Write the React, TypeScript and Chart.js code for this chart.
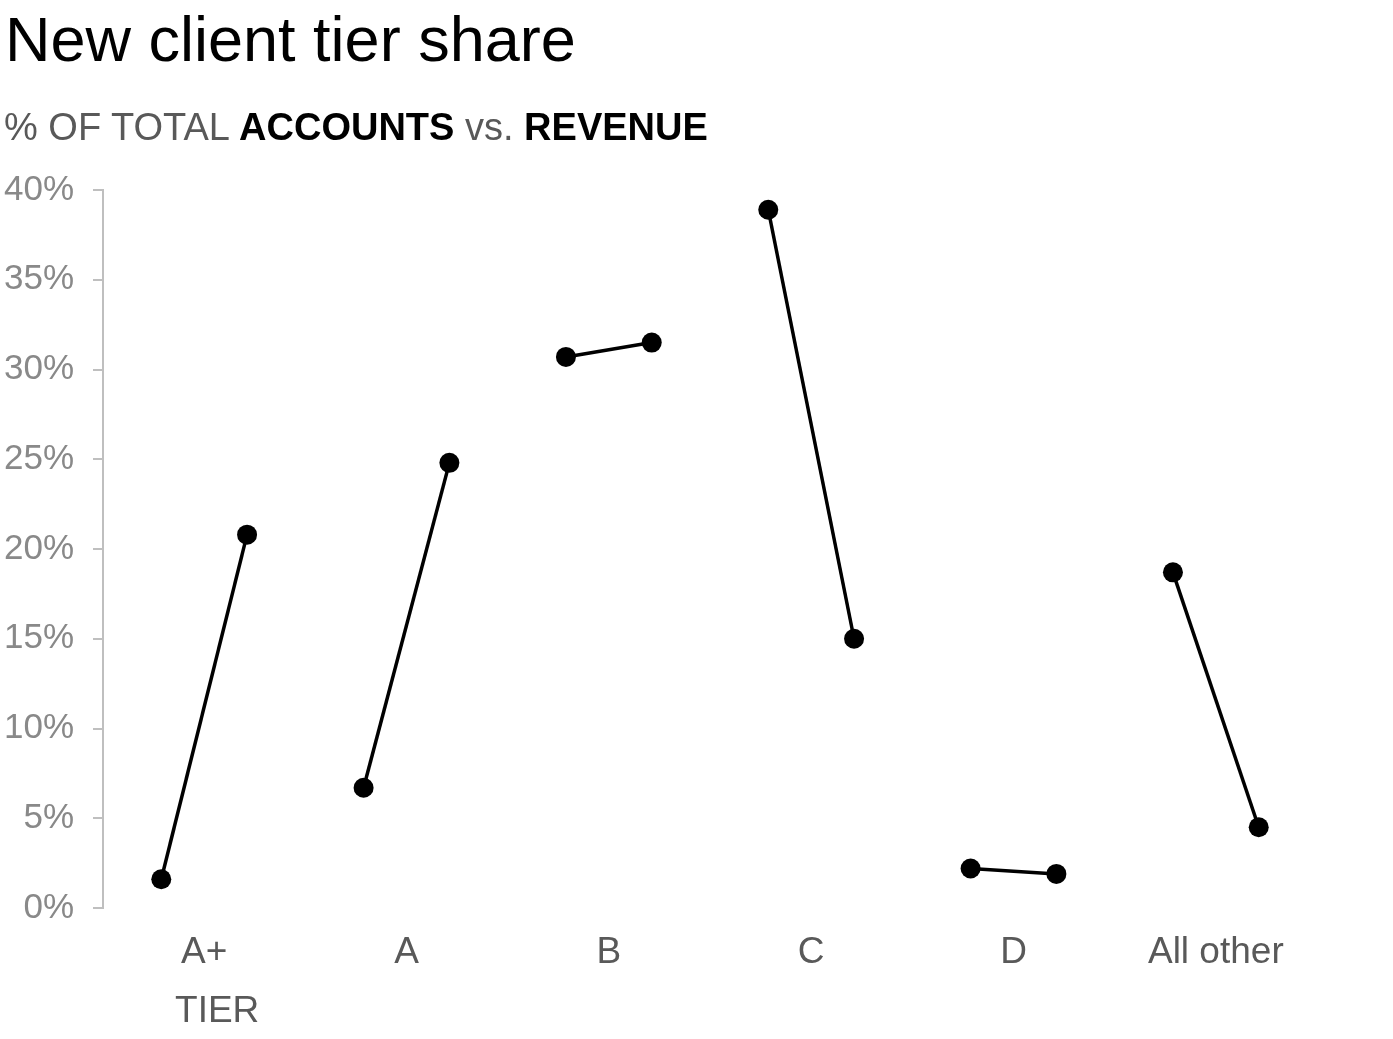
import React, { useEffect, useRef } from 'react';
import Chart from 'chart.js/auto';

const FONT = '"Liberation Sans", Arial, Helvetica, sans-serif';

// share of total, in percent
const categories = ['A+', 'A', 'B', 'C', 'D', 'All other'];
const accountsShare = [1.6, 6.7, 30.7, 38.9, 2.2, 18.7];
const revenueShare = [20.8, 24.8, 31.5, 15.0, 1.9, 4.5];
const axisTitle = 'TIER';

const SPREAD = 0.212; // half gap between the two points of a tier

const tierLabelPlugin = {
    id: 'tierLabel',
    afterDraw(chart: any) {
        const { ctx, chartArea } = chart;
        const x = chart.scales.x;
        ctx.save();
        ctx.font = `37px ${FONT}`;
        ctx.fillStyle = '#595959';
        ctx.textAlign = 'center';
        ctx.textBaseline = 'middle';
        ctx.fillText(axisTitle, x.getPixelForValue(0) + 13, chartArea.bottom + 104);
        ctx.restore();
    }
};

const App: React.FC = () => {
    const chartRef = useRef<HTMLCanvasElement>(null);
    const chartInstanceRef = useRef<Chart | null>(null);

    useEffect(() => {
        if (!chartRef.current) return;
        if (chartInstanceRef.current) chartInstanceRef.current.destroy();

        const datasets = categories.map((cat, i) => ({
            label: cat,
            data: [
                { x: i - SPREAD, y: accountsShare[i] },
                { x: i + SPREAD, y: revenueShare[i] }
            ],
            borderColor: '#000',
            backgroundColor: '#000',
            borderWidth: 3.5,
            pointRadius: 10,
            pointBorderWidth: 0,
            pointBackgroundColor: '#000',
            showLine: true,
            clip: false as const
        }));

        chartInstanceRef.current = new Chart(chartRef.current, {
            type: 'line',
            data: { datasets },
            plugins: [tierLabelPlugin],
            options: {
                animation: false,
                responsive: true,
                maintainAspectRatio: false,
                layout: { padding: { top: 190, right: 76, bottom: 0, left: 0 } },
                plugins: {
                    legend: { display: false },
                    tooltip: { enabled: false }
                },
                scales: {
                    x: {
                        type: 'linear',
                        min: -0.5,
                        max: 5.5,
                        afterBuildTicks: (scale: any) => {
                            scale.ticks = categories.map((_, i) => ({ value: i }));
                        },
                        afterFit: (scale: any) => { scale.height = 131; },
                        grid: { display: false },
                        border: { display: false },
                        ticks: {
                            padding: 15,
                            maxRotation: 0,
                            autoSkip: false,
                            color: '#595959',
                            font: { family: FONT, size: 37 },
                            callback: (v: any) => categories[v as number] ?? ''
                        }
                    },
                    y: {
                        min: 0,
                        max: 40,
                        afterFit: (scale: any) => { scale.width = 103; },
                        grid: {
                            drawOnChartArea: false,
                            drawTicks: true,
                            tickLength: 10,
                            color: '#bfbfbf',
                            lineWidth: 2
                        },
                        border: { display: true, color: '#bfbfbf', width: 2 },
                        ticks: {
                            stepSize: 5,
                            padding: 19,
                            color: '#898989',
                            font: { family: FONT, size: 35 },
                            callback: (v: any) => `${v}%`
                        }
                    }
                }
            }
        });

        return () => {
            if (chartInstanceRef.current) {
                chartInstanceRef.current.destroy();
                chartInstanceRef.current = null;
            }
        };
    }, []);

    return (
        <div style={{ position: 'absolute', left: 0, top: 0, width: 1393, height: 1039, fontFamily: FONT, background: '#fff' }}>
            <div style={{ position: 'absolute', inset: 0 }}>
                <canvas ref={chartRef}></canvas>
            </div>
            <div style={{ position: 'absolute', left: 5, top: 8, fontSize: 63, lineHeight: 1, color: '#000', whiteSpace: 'nowrap' }}>
                New client tier share
            </div>
            <div style={{ position: 'absolute', left: 4, top: 108, fontSize: 38, lineHeight: 1, color: '#595959', whiteSpace: 'nowrap' }}>
                % OF TOTAL <b style={{ color: '#000' }}>ACCOUNTS</b> vs. <b style={{ color: '#000' }}>REVENUE</b>
            </div>
        </div>
    );
};

export default App;
